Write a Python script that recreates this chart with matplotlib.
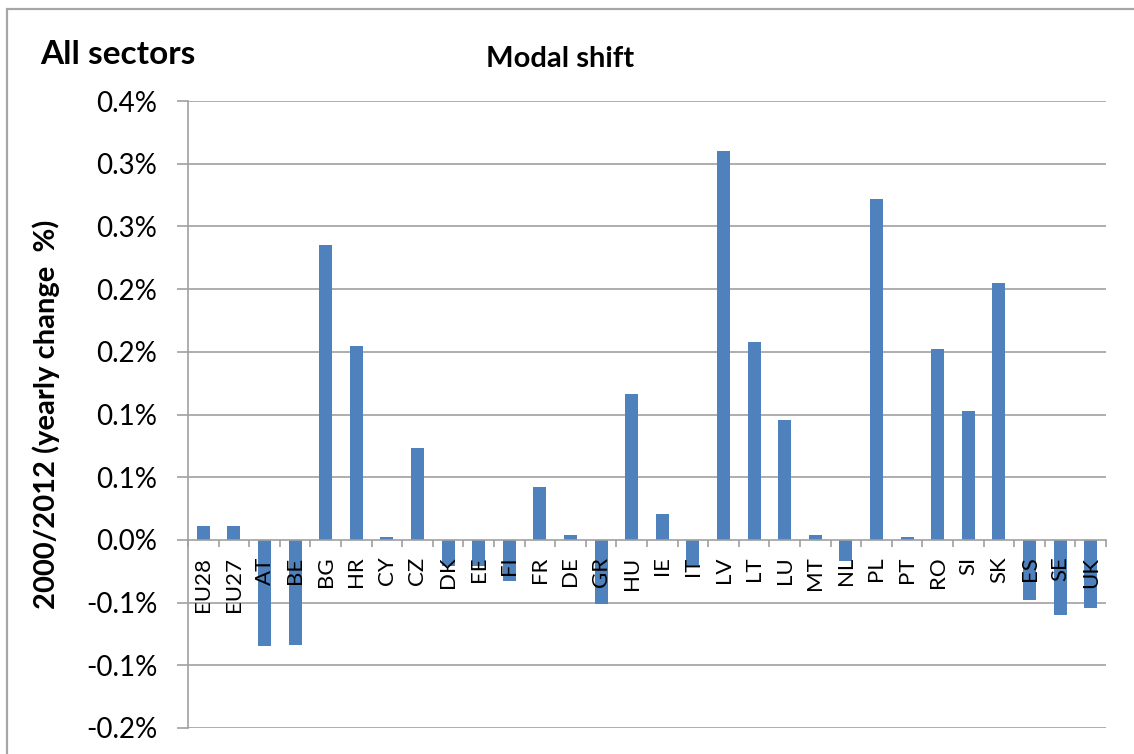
import numpy as np
import matplotlib
matplotlib.use('Agg')
from matplotlib import pyplot as plt
from matplotlib.patches import Rectangle

countries = ['EU28', 'EU27', 'AT', 'BE', 'BG', 'HR', 'CY', 'CZ', 'DK', 'EE',
             'FI', 'FR', 'DE', 'GR', 'HU', 'IE', 'IT', 'LV', 'LT', 'LU',
             'MT', 'NL', 'PL', 'PT', 'RO', 'SI', 'SK', 'ES', 'SE', 'UK']
shift = [0.011, 0.011, -0.085, -0.084, 0.2355, 0.155, 0.002, 0.073, -0.021, -0.021,
         -0.033, 0.042, 0.004, -0.051, 0.1165, 0.021, -0.020, 0.310, 0.158, 0.096,
         0.004, -0.017, 0.2715, 0.002, 0.152, 0.103, 0.2045, -0.048, -0.060, -0.054]

y_ticks = [-0.15, -0.10, -0.05, 0.0, 0.05, 0.10, 0.15, 0.20, 0.25, 0.30, 0.35]
y_labels = ['-0.2%', '-0.1%', '-0.1%', '0.0%', '0.1%', '0.1%', '0.2%', '0.2%',
            '0.3%', '0.3%', '0.4%']

plt.rcParams['font.family'] = ['Lato', 'DejaVu Sans']
grey = '#a0a0a0'

fig = plt.figure(figsize=(11.34, 7.54), dpi=100)
# frame around the chart
fig.patches.append(Rectangle((7 / 1134, -0.1), 1.2, 1.1 - 9 / 754,
                             transform=fig.transFigure, fill=False,
                             edgecolor='#a6a6a6', lw=1.6))

ax = fig.add_axes([188 / 1134, 1 - 728 / 754, (1106 - 188) / 1134, (728 - 101) / 754])

x = np.arange(len(countries))
for t in y_ticks:
    if t != 0:
        ax.axhline(t, color=grey, lw=1.2, zorder=0)
ax.bar(x, shift, width=0.42, color='#4f81bd', zorder=1)

ax.set_xlim(-0.5, len(countries) - 0.5)
ax.set_ylim(-0.15, 0.35)
ax.set_yticks(y_ticks)
ax.set_yticklabels(y_labels, fontsize=20)
ax.tick_params(axis='y', length=8, width=1.2, color=grey, pad=14)

ax.spines['bottom'].set_position(('data', 0))
ax.spines['bottom'].set_color(grey)
ax.spines['bottom'].set_linewidth(1.2)
ax.spines['left'].set_color(grey)
ax.spines['left'].set_linewidth(1.2)
ax.spines['top'].set_visible(False)
ax.spines['right'].set_visible(False)

ax.set_xticks(x)
ax.set_xticklabels(countries, rotation=90, fontsize=16, va='top')
ax.set_xticks(np.arange(len(countries) + 1) - 0.5, minor=True)
ax.tick_params(axis='x', which='major', length=0, pad=12)
ax.tick_params(axis='x', which='minor', length=5, width=1.2, color=grey)

ax.set_ylabel('2000/2012 (yearly change  %)', fontsize=21, fontweight='bold')
ax.yaxis.set_label_coords(-0.139, 0.5)

fig.text(560 / 1134, 1 - 59 / 754, 'Modal shift', fontsize=21, fontweight='bold',
         ha='center', va='center')
fig.text(40 / 1134, 1 - 54 / 754, 'All sectors', fontsize=24, fontweight='bold',
         ha='left', va='center')

fig.savefig('out.png', dpi=100)
